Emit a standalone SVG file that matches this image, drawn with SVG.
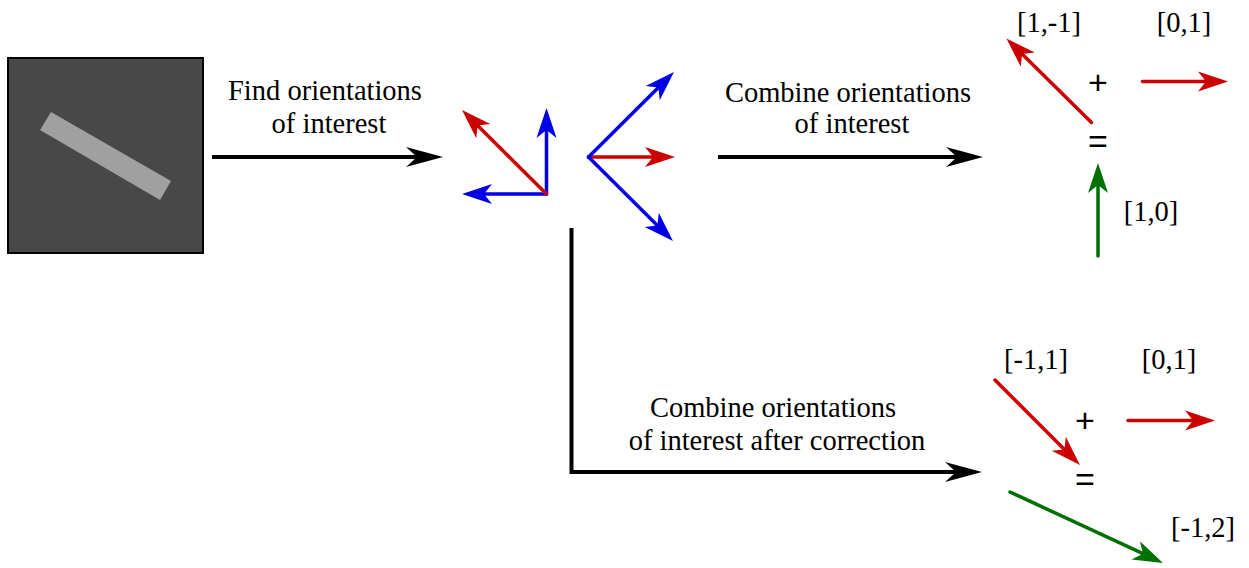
<svg xmlns="http://www.w3.org/2000/svg" width="1249" height="568" viewBox="0 0 1249 568">
<style>
text{font-family:"Liberation Serif","Times New Roman",serif;font-size:28.5px;fill:#000;text-anchor:middle}
text.op{font-family:"Liberation Sans",Arial,sans-serif;font-size:34px}
.blk{stroke:#000;stroke-width:4;fill:none;marker-end:url(#ab)}
.red{stroke:#cc0000;stroke-width:3.5;fill:none;stroke-linecap:round;marker-end:url(#ar)}
.blu{stroke:#0000e6;stroke-width:3.5;fill:none;stroke-linecap:round;marker-end:url(#au)}
.grn{stroke:#007000;stroke-width:3.5;fill:none;stroke-linecap:round;marker-end:url(#ag)}
</style>
<defs>
<marker id="ab" markerUnits="userSpaceOnUse" viewBox="-12 -11 40 22" refX="0" refY="0" markerWidth="40" markerHeight="22" orient="auto"><path d="M26,0 L-11,-10 L0,0 L-11,10 Z" fill="#000"/></marker>
<marker id="ar" markerUnits="userSpaceOnUse" viewBox="-10 -11 34 22" refX="0" refY="0" markerWidth="34" markerHeight="22" orient="auto"><path d="M22,0 L-8,-10 L0,0 L-8,10 Z" fill="#cc0000"/></marker>
<marker id="au" markerUnits="userSpaceOnUse" viewBox="-10 -11 34 22" refX="0" refY="0" markerWidth="34" markerHeight="22" orient="auto"><path d="M22,0 L-8,-10 L0,0 L-8,10 Z" fill="#0000e6"/></marker>
<marker id="ag" markerUnits="userSpaceOnUse" viewBox="-10 -11 34 22" refX="0" refY="0" markerWidth="34" markerHeight="22" orient="auto"><path d="M22,0 L-8,-10 L0,0 L-8,10 Z" fill="#007000"/></marker>
</defs>
<rect width="1249" height="568" fill="#fff"/>
<g id="image">
<rect x="8" y="58" width="195" height="195" fill="#484848" stroke="#000" stroke-width="2"/>
<polygon points="40,130 51,112 171,181 160,200" fill="#a0a0a0"/>
</g>
<g id="orientations">
<line class="blu" x1="546.5" y1="194" x2="546.5" y2="130"/>
<line class="blu" x1="546.5" y1="194" x2="484" y2="194"/>
<line class="red" x1="546.5" y1="194" x2="477.6" y2="125.5"/>
<line class="red" x1="588.5" y1="157" x2="653" y2="157"/>
<line class="blu" x1="588.5" y1="157" x2="658.4" y2="87.5"/>
<line class="blu" x1="588.5" y1="157" x2="657.4" y2="225.5"/>
</g>
<g id="combine-top">
<line class="red" x1="1091.5" y1="122.5" x2="1022.1" y2="54"/>
<line class="red" x1="1142.5" y1="81.5" x2="1206" y2="81.5"/>
<line class="grn" x1="1098" y1="256" x2="1098" y2="185"/>
<text x="1049" y="32">[1,-1]</text>
<text x="1184" y="32">[0,1]</text>
<text class="op" x="1098" y="94">+</text>
<text class="op" x="1098" y="153">=</text>
<text x="1151" y="221">[1,0]</text>
</g>
<g id="combine-bottom">
<line class="red" x1="995" y1="380" x2="1064.4" y2="449.4"/>
<line class="red" x1="1128" y1="420.5" x2="1193" y2="420.5"/>
<line class="grn" x1="1010" y1="492" x2="1143" y2="553.7"/>
<text x="1036" y="369">[-1,1]</text>
<text x="1169" y="369">[0,1]</text>
<text class="op" x="1085" y="432">+</text>
<text class="op" x="1085" y="491">=</text>
<text x="1203" y="537">[-1,2]</text>
</g>
<g id="connectors">
<line class="blk" x1="212" y1="157" x2="417" y2="157"/>
<line class="blk" x1="718" y1="157" x2="957" y2="157"/>
<path class="blk" d="M571.5,228 V472 H956"/>
</g>
<g id="labels">
<text x="325" y="100">Find orientations</text>
<text x="329" y="133">of interest</text>
<text x="848" y="102">Combine orientations</text>
<text x="852" y="133">of interest</text>
<text x="773" y="417">Combine orientations</text>
<text x="777" y="450">of interest after correction</text>
</g>
</svg>
